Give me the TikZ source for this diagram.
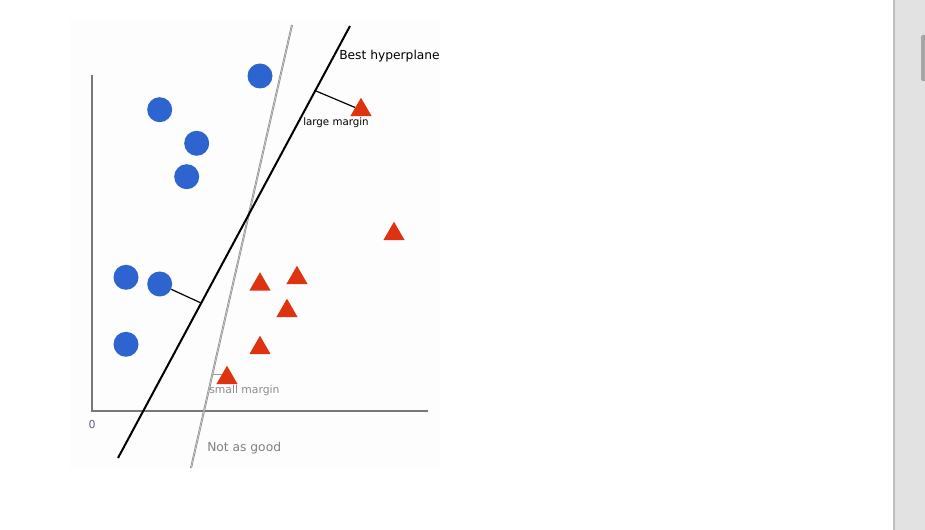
\documentclass[tikz,border=0pt]{standalone}
\usepackage{fontspec}
\setmainfont{DejaVu Sans}
\usetikzlibrary{shapes.geometric}
\definecolor{svmBlue}{RGB}{45,100,207}
\definecolor{svmRed}{RGB}{221,51,17}
\definecolor{svmPanel}{RGB}{253,253,253}
\definecolor{svmAxis}{RGB}{120,120,120}
\definecolor{svmTick}{RGB}{95,95,125}
\definecolor{svmBar}{RGB}{226,226,226}

\begin{document}
\begin{tikzpicture}[x=0.75pt,y=-0.75pt,
  bluedot/.style={circle,fill=svmBlue,minimum size=18.75pt,inner sep=0pt},
  redtri/.style={regular polygon,regular polygon sides=3,fill=svmRed,minimum size=18.4pt,inner sep=0pt},
  best/.style={black,line width=1.5pt},
  weak/.style={draw=black!45,double=black!18,double distance=0.45pt,line width=0.5pt},
  margin/.style={black,line width=0.9pt},
  bigtext/.style={inner sep=0pt,font=\fontsize{9.2}{11}\selectfont},
  smalltext/.style={inner sep=0pt,font=\fontsize{7.7}{9}\selectfont}
]
\useasboundingbox (0,0) rectangle (925,530);
\fill[white] (0,0) rectangle (925,530);
\fill[svmPanel] (70,20) rectangle (440,468);
% scroll bar
\fill[svmBar] (894,0) rectangle (925,530);
\draw[black!25,line width=0.8pt] (894,0) -- (894,530);
\fill[black!35,rounded corners=1.5pt] (921,35) rectangle (927,81);

% axes
\coordinate (origin) at (92,411);
\draw[svmAxis,line width=0.8pt] (92,75) -- (origin) -- (428,411);
\node[smalltext,font=\fontsize{8.2}{9}\selectfont,text=svmTick] (zero) at (92,425) {0};

% hyperplanes
\coordinate (bestLo) at (118,458);
\coordinate (bestHi) at (350,26);
\coordinate (weakLo) at (191,468);
\coordinate (weakHi) at (292,25);
\draw[weak] (weakLo) -- (weakHi);
\draw[best] (bestLo) -- (bestHi);

% class one
\node[bluedot] (c1) at (260,76) {};
\node[bluedot] (c2) at (159.7,109.7) {};
\node[bluedot] (c3) at (196.7,143.3) {};
\node[bluedot] (c4) at (186.7,176.7) {};
\node[bluedot] (c5) at (126,277.3) {};
\node[bluedot] (c6) at (159.7,284) {};
\node[bluedot] (c7) at (126,344.3) {};

% class two
\node[redtri] (t1) at (361,110) {};
\node[redtri] (t2) at (394,234) {};
\node[redtri] (t3) at (260,284.5) {};
\node[redtri] (t4) at (297,278) {};
\node[redtri] (t5) at (287,311) {};
\node[redtri] (t6) at (260,348) {};
\node[redtri] (t7) at (227,378) {};

% margins
\coordinate (bigM) at (316,91);
\coordinate (lowM) at (201,303);
\coordinate (smallM) at (213,374);
\coordinate (smallEnd) at (222,374);
\draw[margin] (bigM) -- (t1);
\draw[margin] (c6) -- (lowM);
\draw[black!40,line width=0.7pt] (smallM) -- (smallEnd);

% labels
\node[bigtext,anchor=west] (bestText) at (339,56) {Best hyperplane};
\node[smalltext] (largeText) at (336,122.5) {large margin};
\node[smalltext,font=\fontsize{8.1}{9}\selectfont,anchor=west,text=black!45] (smallText) at (209,391) {small margin};
\node[bigtext,anchor=west,text=black!50] (weakText) at (207,448) {Not as good};
\end{tikzpicture}
\end{document}
